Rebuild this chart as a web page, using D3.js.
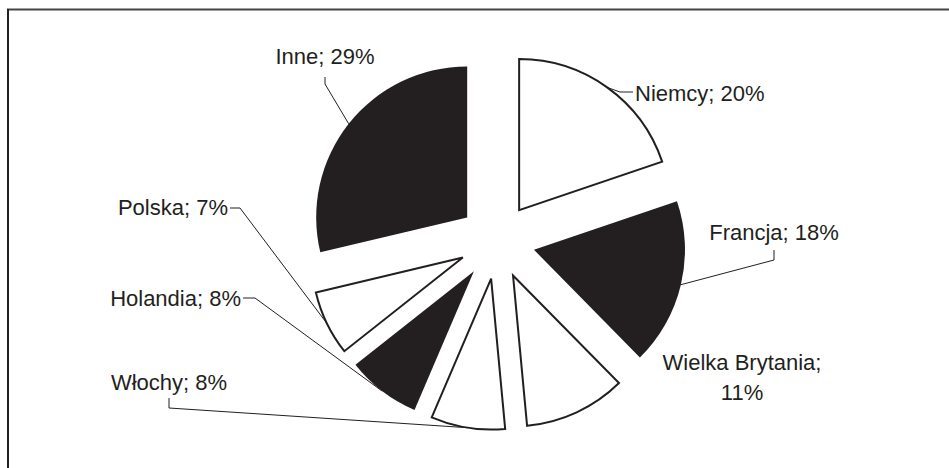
<!DOCTYPE html>
<html>
<head>
<meta charset="utf-8">
<script src="https://cdn.jsdelivr.net/npm/d3@7"></script>
<style>
  body { margin: 0; background: #fff; }
  text { font-family: "Liberation Sans", Arial, sans-serif; font-size: 22px; fill: #231f20; }
</style>
</head>
<body>
<div id="chart-area"></div>
<script>
// udzial krajow (%)
var kraje = ["Niemcy", "Francja", "Wielka Brytania", "Włochy", "Holandia", "Polska", "Inne"];
var udzialy = [20, 18, 11, 8, 8, 7, 29];
var wypelnienia = ["white", "dark", "white", "white", "dark", "white", "dark"];

var width = 949, height = 468;
var cx = 497, cy = 241, radius = 151, explode = 38;
var ink = "#231f20";

var svg = d3.select("#chart-area")
    .append("svg")
        .attr("width", width)
        .attr("height", height);

// ramka (tylko gora i lewa strona)
svg.append("line")
    .attr("x1", 7).attr("x2", width).attr("y1", 9.5).attr("y2", 9.5)
    .attr("stroke", "#444").attr("stroke-width", 2);
svg.append("line")
    .attr("x1", 8).attr("x2", 8).attr("y1", 9).attr("y2", height)
    .attr("stroke", "#222").attr("stroke-width", 2);

var data = kraje.map(function(k, i){
    return { kraj: k, udzial: udzialy[i], fill: wypelnienia[i] };
});

var pie = d3.pie().sort(null).value(d => d.udzial);
var arc = d3.arc().innerRadius(0).outerRadius(radius);
var arcs = pie(data);

var g = svg.append("g")
    .attr("transform", "translate(" + cx + "," + cy + ")");

function offset(d){
    var a = (d.startAngle + d.endAngle) / 2;
    return [Math.sin(a) * explode, -Math.cos(a) * explode];
}

function arcMid(d){
    var a = (d.startAngle + d.endAngle) / 2;
    var o = offset(d);
    return [cx + o[0] + Math.sin(a) * radius, cy + o[1] - Math.cos(a) * radius];
}

// linie odniesienia (pod wycinkami)
var leaders = {
    "Niemcy":   { pts: [[620, 92], [633, 92]] },
    "Francja":  { pts: [[774, 250], [774, 260]] },
    "Włochy":   { pts: [[169, 398], [169, 408]] },
    "Holandia": { pts: [[243, 298], [255, 298]] },
    "Polska":   { pts: [[230, 208], [240, 208]] },
    "Inne":     { pts: [[325, 77], [325, 84]] }
};

var line = d3.line();
arcs.forEach(function(d){
    var l = leaders[d.data.kraj];
    if (!l) return;
    var pts = l.pts.slice();
    if (d.data.kraj == "Niemcy") pts = [arcMid(d)].concat(pts);
    else pts.push(arcMid(d));
    svg.append("path")
        .attr("d", line(pts))
        .attr("fill", "none")
        .attr("stroke", ink)
        .attr("stroke-width", 1);
});

g.selectAll("path.slice")
    .data(arcs)
    .join("path")
        .attr("class", "slice")
        .attr("transform", d => "translate(" + offset(d) + ")")
        .attr("d", arc)
        .attr("fill", d => d.data.fill == "dark" ? ink : "#fff")
        .attr("stroke", ink)
        .attr("stroke-width", d => d.data.fill == "dark" ? 0 : 2)
        .attr("stroke-linejoin", "miter");

// etykiety
var labels = [
    { kraj: "Niemcy",   lines: ["Niemcy; 20%"],  x: 635, y: 101, anchor: "start" },
    { kraj: "Francja",  lines: ["Francja; 18%"], x: 774, y: 240, anchor: "middle" },
    { kraj: "Wielka Brytania", lines: ["Wielka Brytania;", "11%"], x: 742, y: 370, anchor: "middle" },
    { kraj: "Włochy",   lines: ["Włochy; 8%"],   x: 169, y: 390, anchor: "middle" },
    { kraj: "Holandia", lines: ["Holandia; 8%"], x: 241, y: 306, anchor: "end" },
    { kraj: "Polska",   lines: ["Polska; 7%"],   x: 228, y: 215, anchor: "end" },
    { kraj: "Inne",     lines: ["Inne; 29%"],    x: 325, y: 64, anchor: "middle" }
];

labels.forEach(function(l){
    var t = svg.append("text")
        .attr("x", l.x)
        .attr("y", l.y)
        .attr("text-anchor", l.anchor);
    l.lines.forEach(function(s, i){
        t.append("tspan")
            .attr("x", l.x)
            .attr("dy", i == 0 ? 0 : 30)
            .text(s);
    });
});
</script>
</body>
</html>
